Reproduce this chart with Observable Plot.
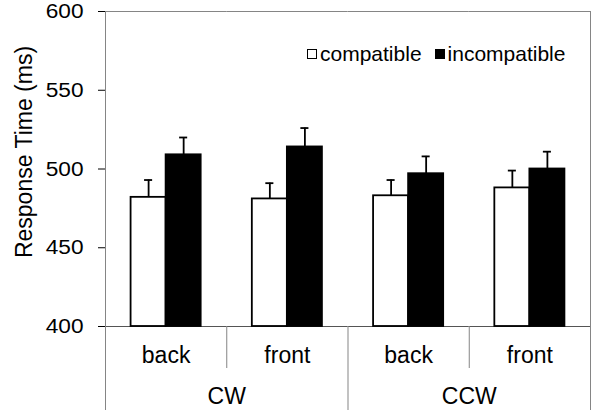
<!DOCTYPE html>
<html>
<head>
<meta charset="utf-8">
<script src="https://cdn.jsdelivr.net/npm/d3@7"></script>
<script src="https://cdn.jsdelivr.net/npm/@observablehq/plot@0.6"></script>
<style>
  body { margin: 0; background: #fff; }
  #chart { position: relative; width: 597px; height: 410px; font-family: "Liberation Sans", Arial, sans-serif; }
  .legend { position: absolute; left: 307px; top: 43px; display: flex; align-items: center; font-size: 21px; line-height: 21px; color: #000; }
  .legend .sw { width: 8px; height: 8px; border: 1.5px solid #000; margin-right: 3px; }
  .legend .item { display: flex; align-items: center; margin-right: 13px; }
  #chart svg [aria-label="y-axis tick"] { stroke: #858585; }
  #chart svg [aria-label="y-axis tick label"] { font-size: 21px; }
</style>
</head>
<body>
<div id="chart"></div>
<script>
// Mean response times (ms) per rotation direction × view, with standard errors
const rotations = ["CW", "CW", "CCW", "CCW"];
const views = ["back", "front", "back", "front"];
const conditions = ["compatible", "incompatible"];
const compatibleRT = [482, 481, 483, 488];
const incompatibleRT = [509, 514, 497, 500];
const compatibleErr = [11, 10, 10, 11];
const incompatibleErr = [11, 12, 11, 11];
const yTicks = [400, 450, 500, 550, 600];
const yLabel = "Response Time (ms)";

const keys = rotations.map((r, i) => `${r} ${views[i]}`);
const viewOf = Object.fromEntries(keys.map((k, i) => [k, views[i]]));
const rows = keys.flatMap((key, i) => [
  {key, cond: conditions[0], rt: compatibleRT[i], err: compatibleErr[i]},
  {key, cond: conditions[1], rt: incompatibleRT[i], err: incompatibleErr[i]}
]);
// panels that open a rotation group, and panels that follow within a group
const firstKey = keys[0];
const lastKey = keys[keys.length - 1];
const groupStarts = keys.filter((k, i) => i > 0 && rotations[i] !== rotations[i - 1]);
const groupSeconds = keys.filter((k, i) => i > 0 && rotations[i] === rotations[i - 1]);
const groupLabels = keys
  .filter((k, i) => i === 0 || rotations[i] !== rotations[i - 1])
  .map(k => ({key: k, label: k.split(" ")[0]}));

const yMin = yTicks[0];
const yMax = yTicks[yTicks.length - 1];
const gray = "#858585";

function build(bw, plotH) {
  return {
    width: 597,
    height: 410,
    marginLeft: 105,
    marginRight: 7,
    marginTop: 11,
    marginBottom: 84,
    style: {fontFamily: "Liberation Sans, Arial, sans-serif", fontSize: "23px", color: "#000", background: "#fff", overflow: "visible"},
    fx: {domain: keys, padding: 0, round: false, label: null, tickSize: 0, tickPadding: 20, tickFormat: k => viewOf[k]},
    x: {domain: conditions, paddingInner: 0, paddingOuter: 0.73, round: false, axis: null},
    y: {domain: [yMin, yMax], ticks: yTicks, tickSize: 7, tickPadding: 15, label: null},
    color: {domain: conditions, range: ["#fff", "#000"]},
    marks: [
      // outer frame: top and bottom edges, left axis and right edge
      Plot.ruleY([yMax], {stroke: gray}),
      Plot.ruleY([yMin], {stroke: "#555"}),
      Plot.ruleX([firstKey], {fx: d => d, x: null, dx: -bw / 2, insetBottom: -84, stroke: gray}),
      Plot.ruleX([lastKey], {fx: d => d, x: null, dx: bw / 2, insetBottom: -84, stroke: gray}),
      // separators running down through the category table
      Plot.ruleX(groupStarts, {fx: d => d, x: null, dx: -bw / 2, insetTop: plotH, insetBottom: -84, stroke: gray}),
      Plot.ruleX(groupSeconds, {fx: d => d, x: null, dx: -bw / 2, insetTop: plotH, insetBottom: -42, stroke: gray}),
      Plot.barY(rows, {fx: "key", x: "cond", y1: () => yMin, y2: "rt", fill: "cond", stroke: "#000", strokeWidth: 1.8}),
      Plot.ruleX(rows, {fx: "key", x: "cond", y1: "rt", y2: d => d.rt + d.err, stroke: "#000", strokeWidth: 1.8}),
      Plot.tickY(rows, {fx: "key", x: "cond", y: d => d.rt + d.err, insetLeft: 13.5, insetRight: 13.5, stroke: "#000", strokeWidth: 1.8}),
      Plot.text(groupLabels, {fx: "key", text: "label", frameAnchor: "bottom-right", textAnchor: "middle", dy: 77, fontSize: 23, fill: "#000"}),
      // y-axis title
      Plot.text([firstKey], {fx: d => d, text: () => yLabel, frameAnchor: "left", textAnchor: "middle", rotate: -90, dx: -81, dy: -17, fontSize: 23, fill: "#000"})
    ]
  };
}

const probe = Plot.plot(build(0, 0));
const bw = probe.scale("fx").bandwidth;
const yScale = probe.scale("y");
const plotH = Math.abs(yScale.apply(yMin) - yScale.apply(yMax));
const chart = Plot.plot(build(bw, plotH));

// the value labels are set slightly wide, as in the original figure
d3.select(chart).selectAll('[aria-label="y-axis tick label"] text').each(function () {
  const t = this.getAttribute("transform") || "";
  this.setAttribute("transform", `${t} scale(1.08,1)`);
});

const root = document.getElementById("chart");
root.appendChild(chart);

const legend = document.createElement("div");
legend.className = "legend";
conditions.forEach((c, i) => {
  const item = document.createElement("div");
  item.className = "item";
  const sw = document.createElement("span");
  sw.className = "sw";
  sw.style.background = i === 0 ? "#fff" : "#000";
  const t = document.createElement("span");
  t.textContent = c;
  item.append(sw, t);
  legend.appendChild(item);
});
root.appendChild(legend);
</script>
</body>
</html>
